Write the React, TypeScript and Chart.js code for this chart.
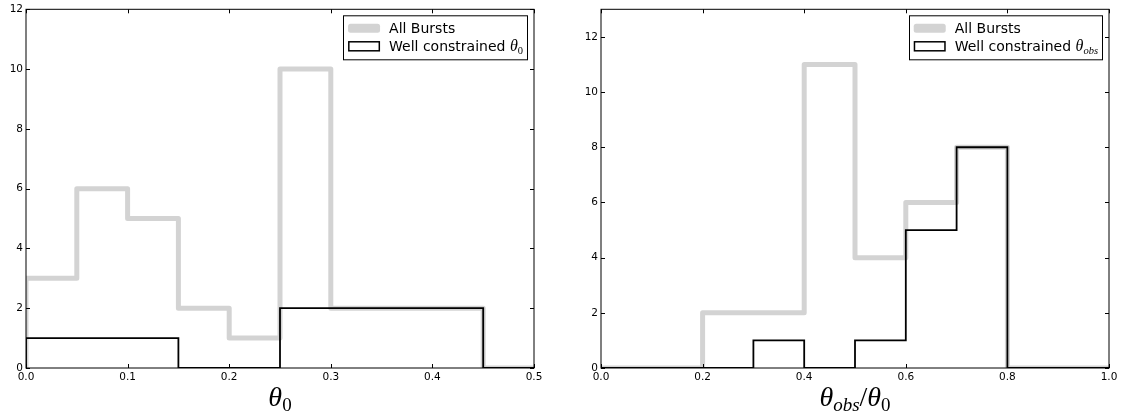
import React, { useEffect, useRef } from "react";
import { Chart, registerables } from "chart.js";

Chart.register(...registerables);

// ---------------- data ----------------
const LEFT_EDGES = [0, 0.05, 0.1, 0.15, 0.2, 0.25, 0.3, 0.35, 0.4, 0.45, 0.5];
const LEFT_ALL = [3, 6, 5, 2, 1, 10, 2, 2, 2, 0];
const LEFT_WELL = [1, 1, 1, 0, 0, 2, 2, 2, 2, 0];
const LEFT_X_TICKS = [0, 0.1, 0.2, 0.3, 0.4, 0.5];
const LEFT_Y_TICKS = [0, 2, 4, 6, 8, 10, 12];
const LEFT_Y_MAX = 12;

const RIGHT_EDGES = [0, 0.1, 0.2, 0.3, 0.4, 0.5, 0.6, 0.7, 0.8, 0.9, 1.0];
const RIGHT_ALL = [0, 0, 2, 2, 11, 4, 6, 8, 0, 0];
const RIGHT_WELL = [0, 0, 0, 1, 0, 1, 5, 8, 0, 0];
const RIGHT_X_TICKS = [0, 0.2, 0.4, 0.6, 0.8, 1.0];
const RIGHT_Y_TICKS = [0, 2, 4, 6, 8, 10, 12];
const RIGHT_Y_MAX = 13;

const LABEL_ALL = "All Bursts";
const LABEL_WELL = "Well constrained ";

// ---------------- helpers ----------------
type Part = { t: string; font: string; dy?: number };

const SANS = "DejaVu Sans";
const SERIF = "Liberation Serif";

function stepPoints(edges: number[], counts: number[]) {
  const pts: { x: number; y: number }[] = [{ x: edges[0], y: 0 }];
  counts.forEach((c, i) => {
    pts.push({ x: edges[i], y: c });
    pts.push({ x: edges[i + 1], y: c });
  });
  pts.push({ x: edges[edges.length - 1], y: 0 });
  return pts;
}

function measureParts(ctx: CanvasRenderingContext2D, parts: Part[]) {
  let w = 0;
  for (const p of parts) {
    ctx.font = p.font;
    w += ctx.measureText(p.t).width;
  }
  return w;
}

function drawParts(ctx: CanvasRenderingContext2D, parts: Part[], x: number, y: number) {
  let cx = x;
  ctx.textAlign = "left";
  ctx.textBaseline = "alphabetic";
  for (const p of parts) {
    ctx.font = p.font;
    ctx.fillText(p.t, cx, y + (p.dy || 0));
    cx += ctx.measureText(p.t).width;
  }
}

const decorPlugin = {
  id: "mplDecor",
  afterDatasetsDraw(chart: any, _args: any, opts: any) {
    const { ctx, chartArea: a, scales } = chart;
    ctx.save();
    // frame
    ctx.strokeStyle = "#000";
    ctx.lineWidth = 1;
    ctx.strokeRect(a.left, a.top, a.right - a.left, a.bottom - a.top);
    // inward ticks
    const L = 4;
    ctx.beginPath();
    scales.x.ticks.forEach((t: any) => {
      const px = Math.round(scales.x.getPixelForValue(t.value)) + 0.5;
      ctx.moveTo(px, a.bottom);
      ctx.lineTo(px, a.bottom - L);
      ctx.moveTo(px, a.top);
      ctx.lineTo(px, a.top + L);
    });
    scales.y.ticks.forEach((t: any) => {
      const py = Math.round(scales.y.getPixelForValue(t.value)) + 0.5;
      ctx.moveTo(a.left, py);
      ctx.lineTo(a.left + L, py);
      ctx.moveTo(a.right, py);
      ctx.lineTo(a.right - L, py);
    });
    ctx.stroke();

    // legend
    const rows: Part[][] = opts.legendRows;
    const handleW = 32;
    const padL = 5;
    const gap = 9;
    const padR = 4;
    let tw = 0;
    rows.forEach((r) => (tw = Math.max(tw, measureParts(ctx, r))));
    const bw = padL + handleW + gap + tw + padR;
    const bx = a.right - 7 - bw;
    const by = a.top + 6;
    const bh = 44;
    ctx.fillStyle = "#fff";
    ctx.fillRect(bx, by, bw, bh);
    ctx.strokeStyle = "#000";
    ctx.lineWidth = 1;
    ctx.strokeRect(Math.round(bx) + 0.5, by + 0.5, Math.round(bw), bh);
    const rowY = [by + 13, by + 31];
    // handle 1: light gray thick outline
    ctx.strokeStyle = "#d3d3d3";
    ctx.lineWidth = 5;
    ctx.lineJoin = "round";
    ctx.strokeRect(bx + padL + 2.5, rowY[0] - 4.5 + 2.5, handleW - 5, 9 - 5);
    // handle 2: black outline
    ctx.strokeStyle = "#000";
    ctx.lineWidth = 1.5;
    ctx.lineJoin = "miter";
    ctx.strokeRect(bx + padL + 0.75, rowY[1] - 4.5, handleW - 1.5, 9);
    ctx.fillStyle = "#000";
    rows.forEach((r, i) => drawParts(ctx, r, bx + padL + handleW + gap, rowY[i] + 5));

    // x label
    const xl: Part[] = opts.xLabel;
    const w = measureParts(ctx, xl);
    const cx = (a.left + a.right) / 2;
    drawParts(ctx, xl, cx - w / 2, a.bottom + 38);
    ctx.restore();
  },
};

type PanelCfg = {
  edges: number[];
  all: number[];
  well: number[];
  xTicks: number[];
  yTicks: number[];
  xMax: number;
  yMax: number;
  yAxisWidth: number;
  rightPad: number;
  legendRows: Part[][];
  xLabel: Part[];
};

function HistPanel({ cfg, left, width }: { cfg: PanelCfg; left: number; width: number }) {
  const ref = useRef<HTMLCanvasElement>(null);
  useEffect(() => {
    const tickFont = { family: SANS, size: 10.5 };
    const chart = new Chart(ref.current!, {
      type: "line",
      data: {
        datasets: [
          {
            label: "well",
            data: stepPoints(cfg.edges, cfg.well),
            borderColor: "#000",
            borderWidth: 1.8,
            pointRadius: 0,
            tension: 0,
            fill: false,
            order: 0,
          },
          {
            label: "all",
            data: stepPoints(cfg.edges, cfg.all),
            borderColor: "#d3d3d3",
            borderWidth: 5,
            borderJoinStyle: "round",
            pointRadius: 0,
            tension: 0,
            fill: false,
            order: 1,
          },
        ],
      },
      options: {
        animation: false,
        responsive: true,
        maintainAspectRatio: false,
        layout: { padding: { top: 9, right: cfg.rightPad, left: 0, bottom: 0 } },
        plugins: {
          legend: { display: false },
          tooltip: { enabled: false },
          mplDecor: { legendRows: cfg.legendRows, xLabel: cfg.xLabel },
        } as any,
        scales: {
          x: {
            type: "linear",
            min: 0,
            max: cfg.xMax,
            grid: { display: false, drawTicks: false },
            border: { display: false },
            afterBuildTicks: (s: any) => {
              s.ticks = cfg.xTicks.map((v) => ({ value: v }));
            },
            afterFit: (s: any) => {
              s.height = 47;
            },
            ticks: {
              autoSkip: false,
              maxRotation: 0,
              padding: 3,
              color: "#000",
              font: tickFont,
              callback: (v: any) => Number(v).toFixed(1),
            },
          },
          y: {
            type: "linear",
            min: 0,
            max: cfg.yMax,
            grid: { display: false, drawTicks: false },
            border: { display: false },
            afterBuildTicks: (s: any) => {
              s.ticks = cfg.yTicks.map((v) => ({ value: v }));
            },
            afterFit: (s: any) => {
              s.width = cfg.yAxisWidth;
            },
            ticks: {
              padding: 3,
              color: "#000",
              font: tickFont,
              callback: (v: any) => String(Math.round(Number(v))),
            },
          },
        },
      },
      plugins: [decorPlugin],
    } as any);
    return () => chart.destroy();
  }, []);
  return (
    <div style={{ position: "absolute", left, top: 0, width, height: 415 }}>
      <canvas ref={ref} />
    </div>
  );
}

const LEFT_CFG: PanelCfg = {
  edges: LEFT_EDGES,
  all: LEFT_ALL,
  well: LEFT_WELL,
  xTicks: LEFT_X_TICKS,
  yTicks: LEFT_Y_TICKS,
  xMax: 0.5,
  yMax: LEFT_Y_MAX,
  yAxisWidth: 26,
  rightPad: 31,
  legendRows: [
    [{ t: LABEL_ALL, font: `14px ${SANS}` }],
    [
      { t: LABEL_WELL, font: `14px ${SANS}` },
      { t: "θ", font: `italic 16px ${SERIF}` },
      { t: "0", font: `10.5px ${SERIF}`, dy: 3 },
    ],
  ],
  xLabel: [
    { t: "θ", font: `italic 28px ${SERIF}` },
    { t: "0", font: `19px ${SERIF}`, dy: 5 },
  ],
};

const RIGHT_CFG: PanelCfg = {
  edges: RIGHT_EDGES,
  all: RIGHT_ALL,
  well: RIGHT_WELL,
  xTicks: RIGHT_X_TICKS,
  yTicks: RIGHT_Y_TICKS,
  xMax: 1.0,
  yMax: RIGHT_Y_MAX,
  yAxisWidth: 36,
  rightPad: 22,
  legendRows: [
    [{ t: LABEL_ALL, font: `14px ${SANS}` }],
    [
      { t: LABEL_WELL, font: `14px ${SANS}` },
      { t: "θ", font: `italic 16px ${SERIF}` },
      { t: "obs", font: `italic 10.5px ${SERIF}`, dy: 3 },
    ],
  ],
  xLabel: [
    { t: "θ", font: `italic 28px ${SERIF}` },
    { t: "obs", font: `italic 19px ${SERIF}`, dy: 5 },
    { t: "/", font: `28px ${SERIF}` },
    { t: "θ", font: `italic 28px ${SERIF}` },
    { t: "0", font: `19px ${SERIF}`, dy: 5 },
  ],
};

export default function App() {
  useEffect(() => {
    document.body.style.margin = "0";
  }, []);
  return (
    <div style={{ position: "absolute", left: 0, top: 0, width: 1131, height: 415, background: "#fff" }}>
      <HistPanel cfg={LEFT_CFG} left={0} width={565} />
      <HistPanel cfg={RIGHT_CFG} left={565} width={566} />
    </div>
  );
}
